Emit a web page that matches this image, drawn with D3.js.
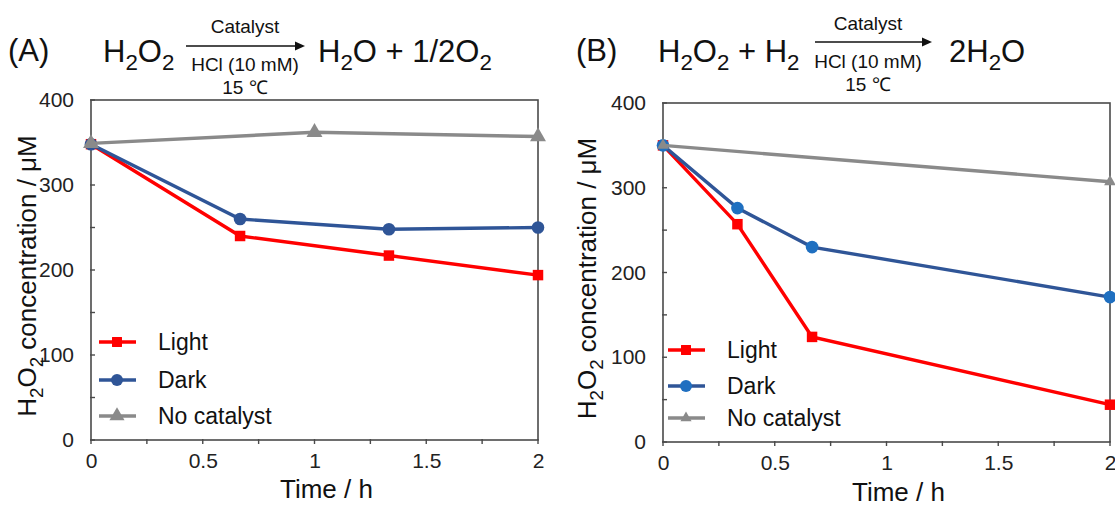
<!DOCTYPE html>
<html>
<head>
<meta charset="utf-8">
<title>H2O2 decomposition</title>
<script src="https://cdn.jsdelivr.net/npm/d3@7/dist/d3.min.js"></script>
<style>
body { margin: 0; background: #fff; }
svg { font-family: "Liberation Sans", Arial, sans-serif; }
.tick text { fill: #222; }
</style>
</head>
<body>
<svg width="1115" height="506"></svg>
<script>
// panel A: H2O2 -> H2O + 1/2 O2
var timeA = [0, 0.667, 1.333, 2];
var lightA = [348, 240, 217, 194];
var darkA = [348, 260, 248, 250];
var timeANone = [0, 1, 2];
var noneA = [349, 362, 357];

// panel B: H2O2 + H2 -> 2 H2O
var timeB = [0, 0.333, 0.667, 2];
var lightB = [350, 257, 124, 44];
var darkB = [350, 276, 230, 171];
var timeBNone = [0, 2];
var noneB = [350, 307];

var seriesNames = ["Light", "Dark", "No catalyst"];
var xTicks = [0, 0.5, 1, 1.5, 2];
var yTicks = [0, 100, 200, 300, 400];

var red = "#ff0000", blue = "#2f5597", gray = "#8a8a8a";
var axisColor = "#4a4a4a";

var svg = d3.select("svg");

function subText(g, x, y, parts, size, anchor) {
  // parts: [text, isSub] pairs
  var t = g.append("text").attr("x", x).attr("y", y)
    .attr("font-size", size).attr("fill", "#111")
    .attr("text-anchor", anchor || "start");
  parts.forEach(function(p) {
    if (p[1]) {
      t.append("tspan").attr("dy", size * 0.25).attr("font-size", size * 0.72).text(p[0]);
    } else {
      var s = t.append("tspan").text(p[0]);
      if (p[2]) s.attr("dy", -size * 0.25);
    }
  });
  return t;
}

function drawPanel(cfg) {
  var g = svg.append("g");
  var x = d3.scaleLinear().domain([0, 2]).range([cfg.left, cfg.right]);
  var y = d3.scaleLinear().domain([0, 400]).range([cfg.bottom, cfg.top]);

  // frame
  g.append("rect")
    .attr("x", cfg.left).attr("y", cfg.top)
    .attr("width", cfg.right - cfg.left).attr("height", cfg.bottom - cfg.top)
    .attr("fill", "none").attr("stroke", axisColor).attr("stroke-width", 1.6);

  // y axis
  var ya = g.append("g").attr("transform", "translate(" + cfg.left + ",0)")
    .call(d3.axisLeft(y).tickValues(yTicks).tickSize(0).tickPadding(17));
  ya.select(".domain").remove();
  ya.attr("font-family", null).attr("font-size", null);
  ya.selectAll("text").attr("font-size", 21);
  g.selectAll(".ytk").data(d3.range(0, 401, 50)).enter().append("line")
    .attr("x1", cfg.left - 1).attr("x2", cfg.left + 4)
    .attr("y1", function(d) { return y(d); }).attr("y2", function(d) { return y(d); })
    .attr("stroke", axisColor).attr("stroke-width", 1.4);

  // x axis
  var xa = g.append("g").attr("transform", "translate(0," + cfg.bottom + ")")
    .call(d3.axisBottom(x).tickValues(xTicks).tickSize(0).tickPadding(13)
      .tickFormat(function(d) { return d3.format("")(d); }));
  xa.select(".domain").remove();
  xa.attr("font-family", null).attr("font-size", null);
  xa.selectAll("text").attr("font-size", 21);
  g.selectAll(".xtk").data(d3.range(0, 2.01, 0.25)).enter().append("line")
    .attr("y1", cfg.bottom - 1).attr("y2", cfg.bottom + 4)
    .attr("x1", function(d) { return x(d); }).attr("x2", function(d) { return x(d); })
    .attr("stroke", axisColor).attr("stroke-width", 1.4);

  // axis titles
  g.append("text").attr("x", (cfg.left + cfg.right) / 2 + 12).attr("y", cfg.bottom + cfg.timeDy)
    .attr("text-anchor", "middle").attr("font-size", 26).attr("fill", "#111").text("Time / h");
  var yt = g.append("g").attr("transform", "translate(" + (cfg.left - cfg.yTitleDx) + "," + ((cfg.top + cfg.bottom) / 2 + 6) + ") rotate(-90)");
  subText(yt, 0, 0, [["H"], ["2", true], ["O", false, true], ["2", true], [" concentration / \u03bcM", false, true]], 26, "middle");

  var line = d3.line().x(function(d) { return x(d[0]); }).y(function(d) { return y(d[1]); });
  var series = [
    { name: seriesNames[0], t: cfg.tLight, v: cfg.light, color: red, fill: red, shape: d3.symbolSquare, size: 110 },
    { name: seriesNames[1], t: cfg.tDark, v: cfg.dark, color: blue, fill: cfg.darkFill, shape: d3.symbolCircle, size: 125 },
    { name: seriesNames[2], t: cfg.tNone, v: cfg.none, color: gray, fill: gray, shape: d3.symbolTriangle, size: cfg.triSize }
  ];

  series.forEach(function(s) {
    var pts = d3.zip(s.t, s.v);
    g.append("path").datum(pts).attr("d", line)
      .attr("fill", "none").attr("stroke", s.color).attr("stroke-width", 3.4);
    g.selectAll(null).data(pts).enter().append("path")
      .attr("d", d3.symbol().type(s.shape).size(s.size))
      .attr("transform", function(d) { return "translate(" + x(d[0]) + "," + y(d[1]) + ")"; })
      .attr("fill", s.fill);
  });

  // legend
  series.forEach(function(s, i) {
    var ly = cfg.legY[i];
    g.append("line").attr("x1", cfg.legX).attr("x2", cfg.legX + 37)
      .attr("y1", ly).attr("y2", ly).attr("stroke", s.color).attr("stroke-width", 3.4);
    g.append("path").attr("d", d3.symbol().type(s.shape).size(s.size * 0.9))
      .attr("transform", "translate(" + (cfg.legX + 18) + "," + ly + ")").attr("fill", s.fill);
    g.append("text").attr("x", cfg.legX + 59).attr("y", ly + 8)
      .attr("font-size", 23).attr("fill", "#111").text(s.name);
  });
}

drawPanel({
  left: 91, right: 538, top: 100, bottom: 440,
  tLight: timeA, light: lightA, tDark: timeA, dark: darkA, tNone: timeANone, none: noneA,
  darkFill: blue, triSize: 110, yTitleDx: 55, timeDy: 58,
  legX: 99, legY: [342, 380, 416]
});
drawPanel({
  left: 663, right: 1110, top: 103, bottom: 442,
  tLight: timeB, light: lightB, tDark: timeB, dark: darkB, tNone: timeBNone, none: noneB,
  darkFill: "#1f6fc0", triSize: 60, yTitleDx: 67, timeDy: 59,
  legX: 668, legY: [350, 386, 418]
});

// reaction headers
function arrow(x1, x2, yy, cx, labY) {
  svg.append("line").attr("x1", x1).attr("x2", x2 - 8).attr("y1", yy).attr("y2", yy)
    .attr("stroke", "#111").attr("stroke-width", 1.6);
  svg.append("path").attr("d", d3.line()([[x2 - 10, yy - 4.5], [x2, yy], [x2 - 10, yy + 4.5]]) + "Z").attr("fill", "#111");
  var labels = ["Catalyst", "HCl (10 mM)", "15 \u2103"];
  labels.forEach(function(l, i) {
    svg.append("text").attr("x", cx).attr("y", labY[i]).attr("text-anchor", "middle")
      .attr("font-size", 19).attr("fill", "#111").text(l);
  });
}

svg.append("text").attr("x", 8).attr("y", 61).attr("font-size", 31).attr("fill", "#111").text("(A)");
subText(svg, 103, 62, [["H"], ["2", true], ["O", false, true], ["2", true]], 31);
arrow(186, 305, 46, 245, [33, 71, 94]);
subText(svg, 318, 62, [["H"], ["2", true], ["O + 1/2O", false, true], ["2", true]], 31);

svg.append("text").attr("x", 576).attr("y", 61).attr("font-size", 31).attr("fill", "#111").text("(B)");
subText(svg, 658, 62, [["H"], ["2", true], ["O", false, true], ["2", true], [" + H", false, true], ["2", true]], 31);
arrow(815, 932, 42, 868, [30, 68, 91]);
subText(svg, 949, 62, [["2H"], ["2", true], ["O", false, true]], 31);
</script>
</body>
</html>
